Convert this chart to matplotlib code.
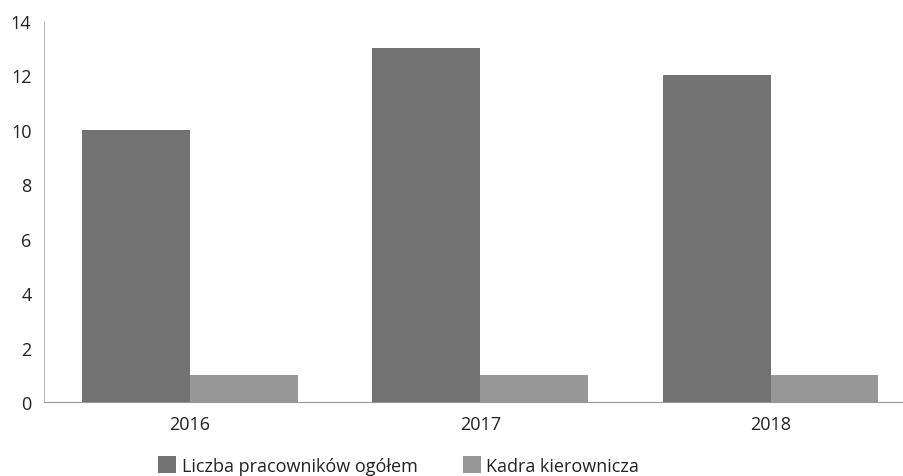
import numpy as np
import matplotlib.pyplot as plt

plt.rcParams['font.family'] = ['Open Sans', 'DejaVu Sans']

years = ['2016', '2017', '2018']
total = [10, 13, 12]          # Liczba pracowników ogółem
managers = [1, 1, 1]          # Kadra kierownicza
labels = ['Liczba pracowników ogółem', 'Kadra kierownicza']

fig = plt.figure(figsize=(9.04, 4.77), dpi=100)
ax = fig.add_axes([0.0487, 0.155, 0.951, 0.799])

x = np.arange(len(years))
w = 0.372
ax.bar(x - w, total, width=w, align='edge', color='#727272', label=labels[0])
ax.bar(x, managers, width=w, align='edge', color='#979797', label=labels[1])

ax.set_xlim(-0.503, 2.459)
ax.set_ylim(0, 14)
ax.set_yticks(range(0, 15, 2))
ax.set_xticks(x)
ax.set_xticklabels(years)
ax.tick_params(length=0, labelsize=13, colors='#222222')
ax.tick_params(axis='y', pad=9)
ax.tick_params(axis='x', pad=9)

for s in ['top', 'right']:
    ax.spines[s].set_visible(False)
ax.spines['left'].set_color('#bbbbbb')
ax.spines['left'].set_linewidth(0.8)
ax.spines['left'].set_linestyle((0, (2, 1)))
ax.spines['bottom'].set_color('#999999')
ax.spines['bottom'].set_linewidth(0.8)

fig.legend(loc='center', bbox_to_anchor=(0.441, 0.022), ncol=2, frameon=False,
           fontsize=13, handlelength=1.0, handleheight=1.0, handletextpad=0.3,
           columnspacing=2.5, labelcolor='#222222')

fig.savefig('out.png', dpi=100)
